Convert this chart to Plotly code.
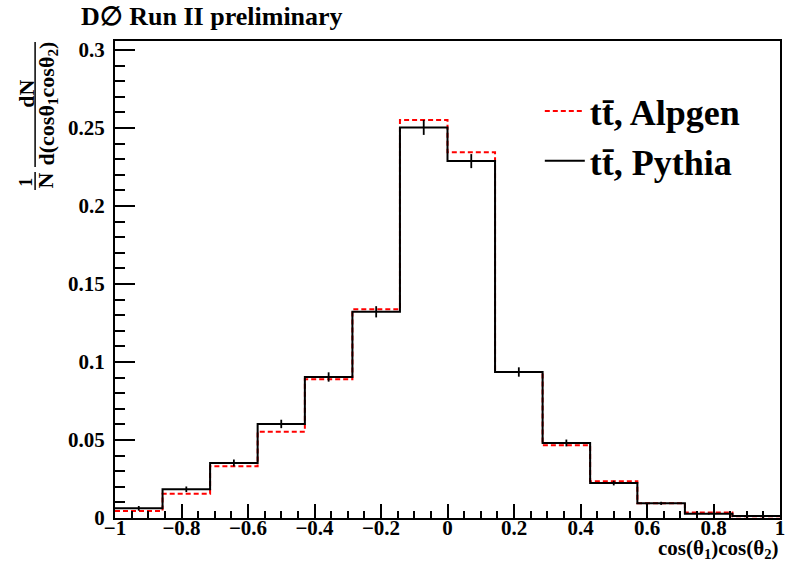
import plotly.graph_objects as go

# ---- data ----
bin_edges = [-1.0, -0.857, -0.714, -0.571, -0.429, -0.286, -0.143, 0.0,
             0.143, 0.286, 0.429, 0.571, 0.714, 0.857, 1.0]
alpgen = [0.0045, 0.0156, 0.0331, 0.0553, 0.0890, 0.1338, 0.2551, 0.2344,
          0.0936, 0.0466, 0.0235, 0.0095, 0.0036, 0.0012]
pythia = [0.0062, 0.0184, 0.0353, 0.0603, 0.0904, 0.1322, 0.2504, 0.2288,
          0.0936, 0.0481, 0.0224, 0.0094, 0.0028, 0.0013]
pythia_err = [0.0015, 0.0018, 0.0022, 0.0027, 0.0030, 0.0036, 0.0048, 0.0045,
              0.0030, 0.0022, 0.0015, 0.0010, 0.0006, 0.0004]
labels = ["tt\u0304, Alpgen", "tt\u0304, Pythia"]

FONT = "Liberation Serif"
W, H = 788, 571
L, R, T, B = 115, 3, 41, 53
PW, PH = W - L - R, H - T - B


def px(x):
    return (x - L) / PW


def py(y):
    return (H - B - y) / PH


def steps(vals):
    return bin_edges, list(vals) + [vals[-1]]


centers = [(bin_edges[i] + bin_edges[i + 1]) / 2 for i in range(len(pythia))]

fig = go.Figure()
xa, ya = steps(alpgen)
fig.add_trace(go.Scatter(x=xa, y=ya, mode="lines", line_shape="hv",
                         line=dict(color="#ff0000", width=2, dash="5px,3px"),
                         name=labels[0]))
xp, yp = steps(pythia)
fig.add_trace(go.Scatter(x=xp, y=yp, mode="lines", line_shape="hv",
                         line=dict(color="black", width=2),
                         name=labels[1]))
fig.add_trace(go.Scatter(x=centers, y=pythia, mode="markers",
                         marker=dict(size=0.1, color="black"),
                         error_y=dict(type="data", array=pythia_err, width=0,
                                      thickness=1.8, color="black"),
                         showlegend=False, hoverinfo="skip"))

tickfont = dict(family=FONT, size=21, color="black", weight="bold")

fig.update_layout(
    width=W, height=H,
    margin=dict(l=L, r=R, t=T, b=B, pad=0),
    paper_bgcolor="white", plot_bgcolor="white",
    showlegend=True,
    legend=dict(x=px(543), y=py(81), xanchor="left", yanchor="top",
                bgcolor="rgba(0,0,0,0)", borderwidth=0,
                font=dict(family=FONT, size=36, color="black", weight="bold"),
                tracegroupgap=0, itemwidth=40),
    xaxis=dict(range=[-1, 1], showgrid=False, zeroline=False,
               showline=True, linecolor="black", linewidth=2, mirror=True,
               ticks="inside", ticklen=14, tickwidth=1.5, tickcolor="black",
               dtick=0.2, tick0=-1, tickformat="~g",
               tickfont=tickfont, ticklabelstandoff=-10,
               ticklabeloverflow="allow",
               minor=dict(ticks="inside", ticklen=7, dtick=0.05, tick0=-1,
                          tickwidth=1.5, tickcolor="black", showgrid=False)),
    yaxis=dict(range=[0, 0.3058], showgrid=False, zeroline=False,
               showline=True, linecolor="black", linewidth=2, mirror=True,
               ticks="inside", ticklen=20, tickwidth=1.5, tickcolor="black",
               dtick=0.05, tick0=0, tickformat="~g",
               tickfont=tickfont, ticklabelstandoff=4,
               minor=dict(ticks="inside", ticklen=10, dtick=0.01, tick0=0,
                          tickwidth=1.5, tickcolor="black", showgrid=False)),
)

ann = []
ann.append(dict(text="D\u2205 Run II preliminary", x=px(79), y=py(16),
                xref="paper", yref="paper", xanchor="left", yanchor="middle",
                showarrow=False,
                font=dict(family=FONT, size=26, color="black", weight="bold")))
ann.append(dict(text="cos(\u03b8<sub>1</sub>)cos(\u03b8<sub>2</sub>)",
                x=px(786), y=py(549), xref="paper", yref="paper",
                xanchor="right", yanchor="middle", showarrow=False,
                font=dict(family=FONT, size=21, color="black", weight="bold")))
yt_font = dict(family=FONT, size=22, color="black", weight="bold")
ann.append(dict(text="dN", x=px(25), y=py(94), xref="paper", yref="paper",
                xanchor="center", yanchor="middle", textangle=-90,
                showarrow=False, font=yt_font))
ann.append(dict(text="d(cos\u03b8<sub>1</sub>cos\u03b8<sub>2</sub>)",
                x=px(47), y=py(104), xref="paper", yref="paper",
                xanchor="center", yanchor="middle", textangle=-90,
                showarrow=False, font=yt_font))
ann.append(dict(text="1", x=px(25), y=py(182), xref="paper", yref="paper",
                xanchor="center", yanchor="middle", textangle=-90,
                showarrow=False, font=dict(family=FONT, size=18, color="black", weight="bold")))
ann.append(dict(text="N", x=px(44), y=py(181), xref="paper", yref="paper",
                xanchor="center", yanchor="middle", textangle=-90,
                showarrow=False, font=yt_font))
fig.update_layout(annotations=ann)

fig.add_shape(type="line", xref="paper", yref="paper",
              x0=px(34.5), x1=px(34.5), y0=py(42), y1=py(167),
              line=dict(color="black", width=1.5))
fig.add_shape(type="line", xref="paper", yref="paper",
              x0=px(34.5), x1=px(34.5), y0=py(172), y1=py(190),
              line=dict(color="black", width=1.5))

fig.write_html("out.html")
